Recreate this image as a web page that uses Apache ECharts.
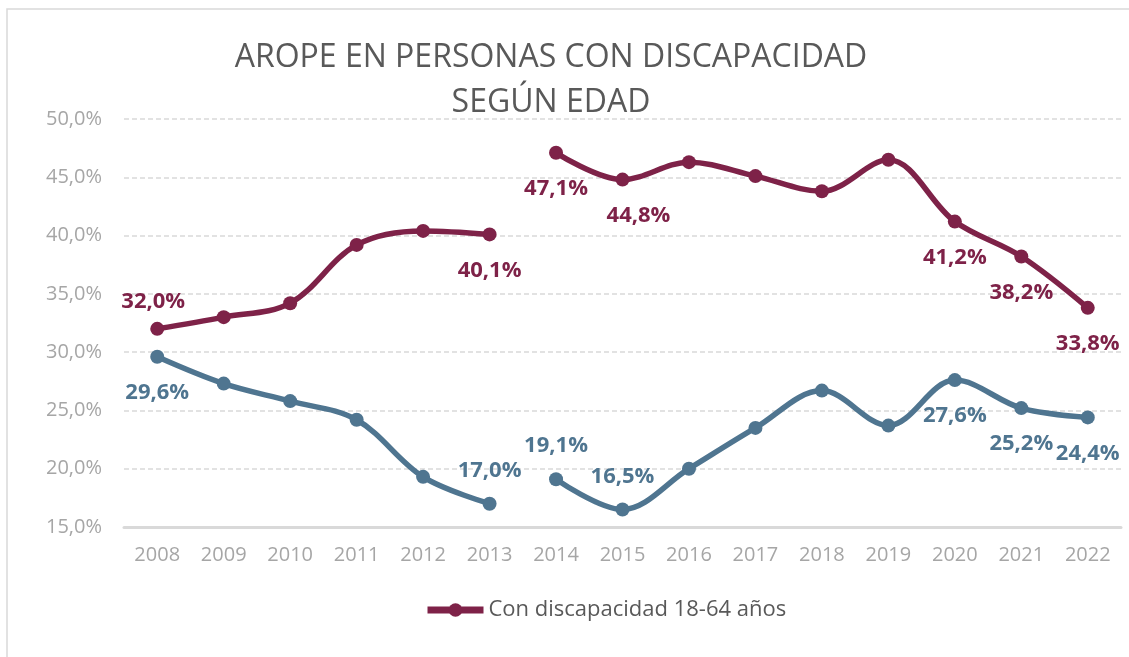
<!DOCTYPE html>
<html>
<head>
<meta charset="utf-8">
<script src="https://cdn.jsdelivr.net/npm/echarts@6/dist/echarts.min.js"></script>
<style>
  html, body { margin: 0; padding: 0; background: #fff; }
  #chart { width: 1129px; height: 657px; }
</style>
</head>
<body>
<div id="chart"></div>
<script>
// datos AROPE (%)
const years = ['2008','2009','2010','2011','2012','2013','2014','2015','2016','2017','2018','2019','2020','2021','2022'];
const arope1864 = [32.0, 33.0, 34.2, 39.2, 40.4, 40.1, 47.1, 44.8, 46.3, 45.1, 43.8, 46.5, 41.2, 38.2, 33.8];
const aropeOtro = [29.6, 27.3, 25.8, 24.2, 19.3, 17.0, 19.1, 16.5, 20.0, 23.5, 26.7, 23.7, 27.6, 25.2, 24.4];
const yTicks = [15, 50, 5]; // min, max, intervalo

// etiquetas visibles: año -> posicion
const labels1864 = { '2008': 'top', '2013': 'bottom', '2014': 'bottom', '2015': 'bottom', '2020': 'bottom', '2021': 'bottom', '2022': 'bottom' };
const labelsOtro = { '2008': 'bottom', '2013': 'top', '2014': 'top', '2015': 'top', '2020': 'bottom', '2021': 'bottom', '2022': 'bottom' };
const labelShift = { 'r2008': [-4, 6], 'r2015': [16, 0] };

const RED = '#7E2248';
const BLUE = '#4F7590';
const fmt = v => v.toFixed(1).replace('.', ',') + '%';

// la serie se corta entre 2013 y 2014
function tramo(values, labelMap, color, key, first) {
    return values.map((v, i) => {
        const inTramo = first ? i <= 5 : i >= 6;
        if (!inTramo) return '-';
        const pos = labelMap[years[i]];
        if (!pos) return v;
        return {
            value: v,
            label: {
                show: true,
                position: pos,
                distance: pos === 'top' ? 15 : 18,
                offset: labelShift[key + years[i]] || [0, 0],
                formatter: p => fmt(p.value),
                color: color,
                fontFamily: 'Open Sans',
                fontWeight: 'bold',
                fontSize: 22
            }
        };
    });
}

function serie(name, values, labelMap, color, key, first) {
    return {
        name: name,
        type: 'line',
        smooth: 0.35,
        symbol: 'circle',
        symbolSize: 14,
        connectNulls: false,
        lineStyle: { color: color, width: 5.5 },
        itemStyle: { color: color },
        emphasis: { disabled: true },
        data: tramo(values, labelMap, color, key, first)
    };
}

let chart = echarts.init(document.getElementById('chart'));
let option = {
    animation: false,
    title: {
        text: 'AROPE EN PERSONAS CON DISCAPACIDAD\nSEGÚN EDAD',
        left: 546,
        top: 30,
        textAlign: 'center',
        textStyle: {
            fontFamily: 'Open Sans',
            fontWeight: 'normal',
            fontSize: 32,
            lineHeight: 45,
            color: '#595959'
        }
    },
    graphic: [{
        type: 'rect',
        shape: { x: 7, y: 9, width: 1200, height: 700 },
        style: { fill: 'none', stroke: '#D9D9D9', lineWidth: 1.5 },
        silent: true
    }],
    legend: {
        data: ['Con discapacidad 18-64 años'],
        left: 419,
        top: 594,
        itemWidth: 56,
        itemHeight: 17,
        lineStyle: { width: 7 },
        textStyle: { fontFamily: 'Open Sans', fontSize: 22, color: '#595959' }
    },
    grid: { left: 124, right: 8, top: 119, bottom: 130 },
    xAxis: {
        type: 'category',
        data: years,
        boundaryGap: true,
        axisLine: { lineStyle: { color: '#D9D9D9', width: 3 } },
        axisTick: { show: false },
        axisLabel: { color: '#A6A6A6', fontFamily: 'Open Sans', fontSize: 20, margin: 18 }
    },
    yAxis: {
        type: 'value',
        min: yTicks[0],
        max: yTicks[1],
        interval: yTicks[2],
        axisLine: { show: false },
        axisTick: { show: false },
        axisLabel: { color: '#A6A6A6', fontFamily: 'Open Sans', fontSize: 20, margin: 22, formatter: fmt },
        splitLine: { lineStyle: { color: '#D9D9D9', width: 1.5, type: [5, 3] } }
    },
    series: [
        serie('Con discapacidad 18-64 años', arope1864, labels1864, RED, 'r', true),
        serie('Con discapacidad 18-64 años', arope1864, labels1864, RED, 'r', false),
        serie('Con discapacidad 65 y más años', aropeOtro, labelsOtro, BLUE, 'b', true),
        serie('Con discapacidad 65 y más años', aropeOtro, labelsOtro, BLUE, 'b', false)
    ]
};
chart.setOption(option);
</script>
</body>
</html>
